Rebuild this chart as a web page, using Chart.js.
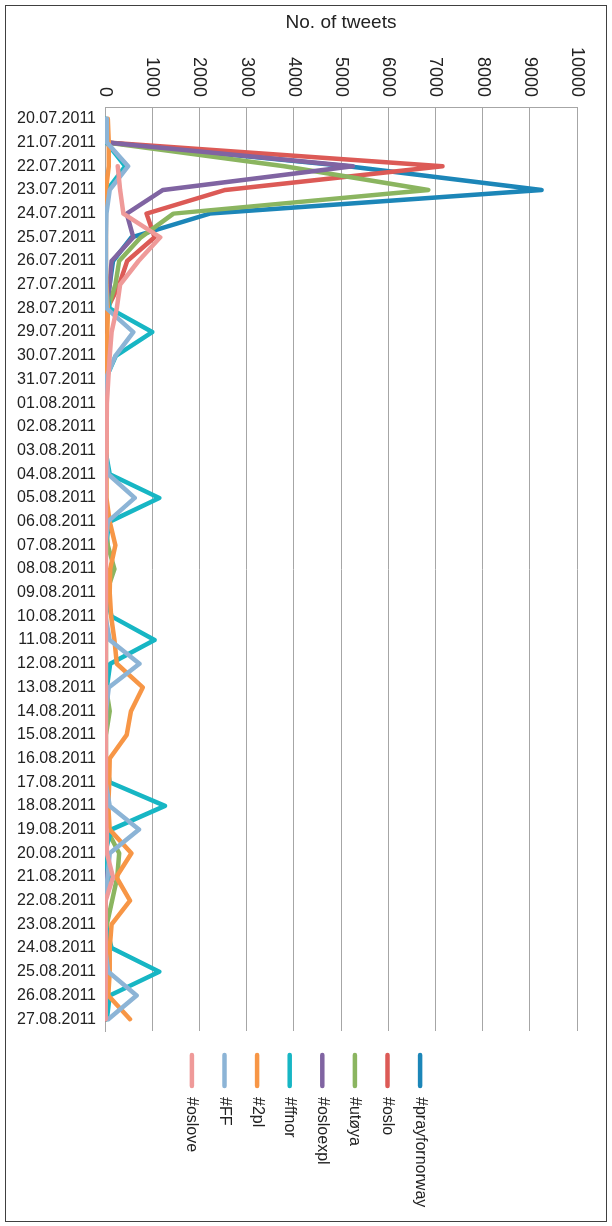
<!DOCTYPE html>
<html lang="en">
<head>
  <meta charset="utf-8" />
  <title>No. of tweets per hashtag</title>
  <style>
    body {
      margin: 0;
      background: #ffffff;
    }
    .frame {
      position: absolute;
      left: 5px;
      top: 5px;
      width: 600px;
      height: 1215px;
      border: 1px solid #404040;
    }
  </style>
</head>
<body>
  <div class="frame"><canvas id="chart" width="600" height="1215"></canvas></div>

  <script src="https://cdn.jsdelivr.net/npm/chart.js"></script>
  <script>
    const dates = [
      '20.07.2011', '21.07.2011', '22.07.2011', '23.07.2011', '24.07.2011', '25.07.2011',
      '26.07.2011', '27.07.2011', '28.07.2011', '29.07.2011', '30.07.2011', '31.07.2011',
      '01.08.2011', '02.08.2011', '03.08.2011', '04.08.2011', '05.08.2011', '06.08.2011',
      '07.08.2011', '08.08.2011', '09.08.2011', '10.08.2011', '11.08.2011', '12.08.2011',
      '13.08.2011', '14.08.2011', '15.08.2011', '16.08.2011', '17.08.2011', '18.08.2011',
      '19.08.2011', '20.08.2011', '21.08.2011', '22.08.2011', '23.08.2011', '24.08.2011',
      '25.08.2011', '26.08.2011', '27.08.2011'
    ];
    const xTicks = [0, 1000, 2000, 3000, 4000, 5000, 6000, 7000, 8000, 9000, 10000];

    // one array per hashtag, one value per day (null = no data)
    const oslove = [null, null, 270, 320, 390, 1170, 710, 320, 250, 140, 100, 70, 40, 35, 30, 20, 20, 20, 20, 20,
      20, 20, 20, 20, 20, 20, 20, 20, 20, 20, 30, 40, 170, 15, 15, 15, 15, 15, 15];
    const ff = [30, 40, 490, 100, 30, 20, 20, 20, 35, 600, 220, 10, 10, 10, 10, 70, 630, 60, 10, 10,
      10, 10, 100, 730, 80, 20, 10, 10, 10, 100, 720, 100, 55, 0, 0, 0, 70, 670, 70];
    const twoPl = [60, 80, 80, 20, 20, 20, 20, 30, 60, 50, 30, 30, 30, 30, 30, 30, 30, 100, 220, 110,
      100, 130, 200, 250, 800, 550, 460, 100, 90, 70, 100, 560, 240, 530, 140, 100, 100, 70, 530];
    const ffnor = [10, 30, 430, 50, 10, 10, 10, 10, 100, 1000, 230, 10, 10, 10, 10, 100, 1150, 100, 10, 10,
      10, 140, 1050, 110, 40, 20, 10, 10, 100, 1270, 130, 0, 80, 0, 10, 140, 1150, 100, 40];
    const osloexpl = [null, 40, 5250, 1230, 460, 600, 140, 100, 30, 10, 10, 5, 5, 5, 5, 5, 5, 5, 5, 5,
      5, 5, 5, 5, 5, 5, 5, 5, 5, 5, 5, 5, 5, 5, 5, 5, 5, 5, 5];
    const utoya = [null, 40, 3800, 6850, 1450, 760, 300, 220, 60, 30, 20, 20, 20, 20, 20, 20, 20, 20, 60, 200,
      30, 20, 20, 20, 20, 100, 20, 20, 20, 20, 40, 300, 260, 150, 40, 20, 20, 20, 20];
    const oslo = [null, 40, 7150, 2550, 880, 1050, 470, 300, 50, 20, 15, 10, 10, 10, 10, 10, 10, 10, 10, 10,
      10, 10, 10, 10, 10, 10, 10, 10, 10, 10, 10, 10, 10, 10, 10, 10, 10, 10, 10];
    const prayfornorway = [null, 40, 5150, 9250, 2220, 560, 170, 100, 20, 10, 10, 5, 5, 5, 5, 5, 5, 5, 5, 5,
      5, 5, 5, 5, 5, 5, 5, 5, 5, 5, 5, 5, 5, 5, 5, 5, 5, 5, 5];

    const seriesNames = ['#oslove', '#FF', '#2pl', '#ffnor', '#osloexpl', '#utøya', '#oslo', '#prayfornorway'];
    const seriesData = [oslove, ff, twoPl, ffnor, osloexpl, utoya, oslo, prayfornorway];
    const seriesColors = ['#ef9a99', '#8cb4d6', '#f79646', '#17b6c4', '#8064a2', '#8bb560', '#dc5a56', '#1c86b8'];

    const textColor = '#222222';
    const fontFamily = '"Liberation Sans", Arial, sans-serif';

    // rotated tick labels on the top axis and the rotated legend under the plot
    const rotatedText = {
      id: 'rotatedText',
      afterDraw(chart) {
        const ctx = chart.ctx;
        const xs = chart.scales.x;
        const area = chart.chartArea;
        ctx.save();
        ctx.fillStyle = textColor;
        ctx.textBaseline = 'middle';

        ctx.font = '18px ' + fontFamily;
        ctx.textAlign = 'right';
        for (const v of xTicks) {
          ctx.save();
          ctx.translate(xs.getPixelForValue(v), area.top - 10);
          ctx.rotate(Math.PI / 2);
          ctx.fillText(String(v), 0, 0);
          ctx.restore();
        }

        ctx.font = '16px ' + fontFamily;
        const cx = chart.width / 2;
        const step = 32.6;
        ctx.textAlign = 'left';
        ctx.lineWidth = 4.5;
        ctx.lineCap = 'round';
        seriesNames.forEach((name, i) => {
          const x = cx + (i - (seriesNames.length - 1) / 2) * step;
          ctx.strokeStyle = seriesColors[i];
          ctx.beginPath();
          ctx.moveTo(x, area.bottom + 24);
          ctx.lineTo(x, area.bottom + 55);
          ctx.stroke();
          ctx.save();
          ctx.translate(x, area.bottom + 66);
          ctx.rotate(Math.PI / 2);
          ctx.fillText(name, 0, 0);
          ctx.restore();
        });
        ctx.restore();
      }
    };

    new Chart(document.getElementById('chart'), {
      type: 'line',
      data: {
        labels: dates,
        datasets: seriesNames.map((name, i) => ({
          label: name,
          data: seriesData[i],
          borderColor: seriesColors[i],
          backgroundColor: seriesColors[i],
          borderWidth: 4.5,
          pointRadius: 0,
          tension: 0,
          borderCapStyle: 'round',
          borderJoinStyle: 'round',
          spanGaps: false
        }))
      },
      options: {
        indexAxis: 'y',
        responsive: false,
        animation: false,
        devicePixelRatio: 1,
        layout: { padding: { top: 0, left: 0, right: 29, bottom: 190 } },
        plugins: {
          legend: { display: false },
          tooltip: { enabled: false }
        },
        scales: {
          x: {
            type: 'linear',
            position: 'top',
            min: 0,
            max: 10000,
            ticks: { stepSize: 1000, display: false },
            grid: { color: '#a6a6a6', lineWidth: 1, drawTicks: false },
            border: { display: true, color: '#a6a6a6', width: 1 },
            title: {
              display: true,
              text: 'No. of tweets',
              color: textColor,
              font: { family: fontFamily, size: 19 },
              padding: { top: 5, bottom: 0 }
            },
            afterFit(scale) { scale.height = 101; }
          },
          y: {
            type: 'category',
            offset: true,
            ticks: {
              autoSkip: false,
              color: textColor,
              font: { family: fontFamily, size: 16 },
              padding: 9
            },
            grid: { display: false, drawTicks: false },
            border: { display: true, color: '#a6a6a6', width: 1 },
            afterFit(scale) { scale.width = 99; }
          }
        }
      },
      plugins: [rotatedText]
    });
  </script>
</body>
</html>
